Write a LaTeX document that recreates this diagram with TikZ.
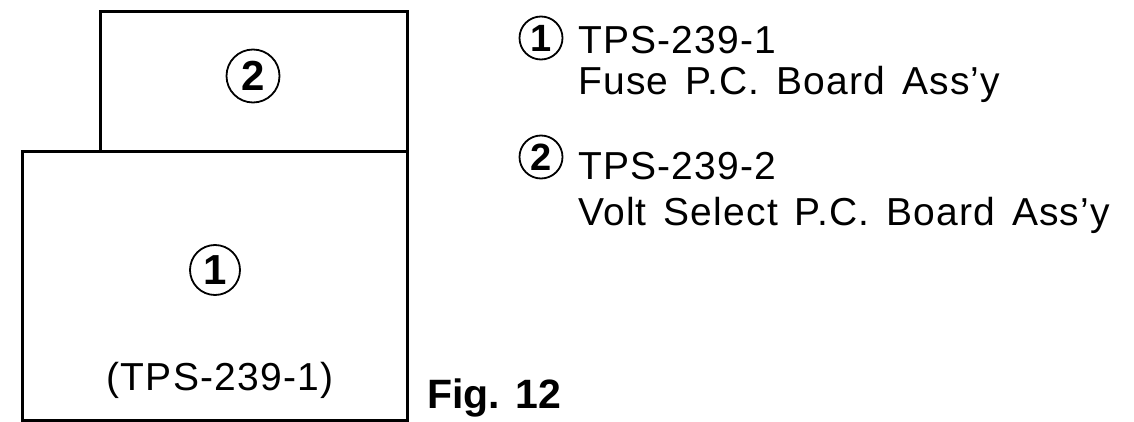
\documentclass[tikz,border=0pt]{standalone}
\usepackage{fontspec}
\setmainfont{Liberation Sans}
\newfontfamily\labfont[LetterSpace=3]{Liberation Sans}
\newcommand\mylabsetup{\labfont\fontsize{39}{47}\selectfont\spaceskip=17pt\relax}
\begin{document}
\begin{tikzpicture}[x=1pt,y=-1pt,
  board/.style={draw, line width=3pt, inner sep=0pt},
  numc/.style={circle, draw, line width=1.8pt, inner sep=0pt, minimum size=#1},
  bigdigit/.style={font=\fontsize{42}{50}\selectfont\bfseries},
  smalldigit/.style={font=\fontsize{38}{46}\selectfont\bfseries},
  lab/.style={anchor=base west, inner sep=0pt, font=\mylabsetup},
  figlab/.style={anchor=base west, inner sep=0pt, font=\fontsize{41}{50}\selectfont\bfseries}
]
\useasboundingbox (0,0) rectangle (1134,422);
% boards
\node (b1) [board, minimum width=385pt, minimum height=268pt] at (214.5,286) {};
\node (b2) [board, minimum width=307pt, minimum height=140pt] at (253.5,82) {};
% labels inside boards
\node (c2) [numc=53pt, bigdigit] at (253,76) {2};
\node (c1) [numc=50pt, bigdigit] at (215,270) {1};
\node (t1) [anchor=base, inner sep=0pt, font=\labfont\fontsize{39}{47}\selectfont] at (220,390) {(TPS-239-1)};
% figure caption
\node (fig) [figlab] at (427,408) {Fig. 12};
% legend
\node (l1) [numc=43pt, smalldigit] at (541,38) {1};
\node (l1a) [lab] at (578,54) {TPS-239-1};
\node (l1b) [lab] at (578,95) {Fuse P.C. Board Ass’y};
\node (l2) [numc=43pt, smalldigit] at (541,157) {2};
\node (l2a) [lab] at (578,179) {TPS-239-2};
\node (l2b) [lab] at (578,225) {Volt Select P.C. Board Ass’y};
\end{tikzpicture}
\end{document}
